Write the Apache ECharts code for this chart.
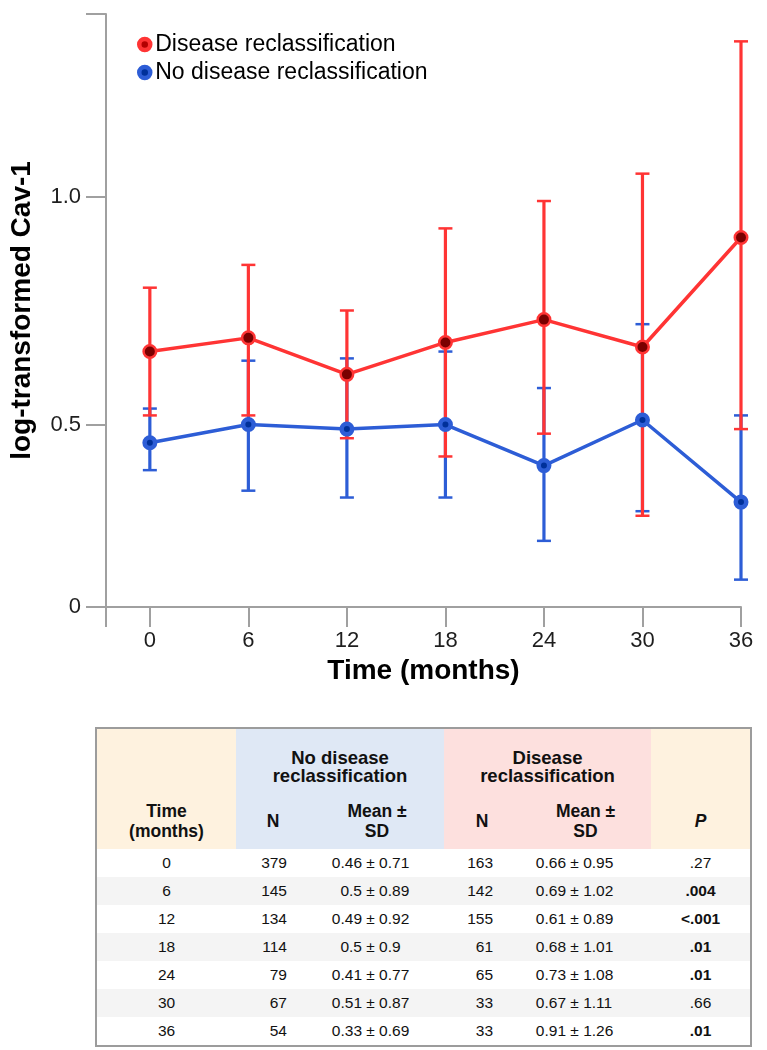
<!DOCTYPE html>
<html>
<head>
<meta charset="utf-8">
<script src="https://cdn.jsdelivr.net/npm/echarts@6/dist/echarts.min.js"></script>
<style>
  body { margin: 0; background: #fff; font-family: 'Liberation Sans', Arial, sans-serif; }
  #chart { position: absolute; left: 0; top: 0; width: 767px; height: 700px; }
  #box { position: absolute; left: 95px; top: 727px; width: 653px; border: 2px solid #9c9c9c; }
  #tbl { border-collapse: collapse; table-layout: fixed; width: 653px; color: #111; }
  #tbl td { padding: 0; white-space: nowrap; }
  .hd { font-weight: bold; font-size: 17.5px; text-align: center; }
  .r1 td { height: 56px; vertical-align: bottom; line-height: 18px; padding-bottom: 3px !important; font-size: 18.5px; }
  .r2 td { height: 57px; vertical-align: middle; line-height: 20px; padding-top: 4px !important; }
  .cream { background: #fef2df; }
  .blue { background: #dfe8f5; }
  .pink { background: #fde0de; }
  .row td { height: 28px; font-size: 15.5px; vertical-align: middle; }
  .row.alt td { background: #f4f4f4; }
  .c { text-align: center; }
  .nR1 { text-align: right; padding-right: 23px !important; }
  .nR2 { text-align: right; padding-right: 27px !important; }
  .m1 { padding-left: 12px !important; }
  .m2 { padding-left: 6px !important; }
  .mv { display: inline-block; width: 40px; text-align: right; }
  .b { font-weight: bold; }
</style>
</head>
<body>
<div id="chart"></div>
<div id="box"><table id="tbl"></table></div>
<script>
  // chart values
  const months = [0, 6, 12, 18, 24, 30, 36];
  const redMean = [0.66, 0.69, 0.61, 0.68, 0.73, 0.67, 0.91];
  const redLow = [0.52, 0.52, 0.47, 0.43, 0.48, 0.30, 0.49];
  const redHigh = [0.80, 0.85, 0.75, 0.93, 0.99, 1.05, 1.34];
  const blueMean = [0.46, 0.50, 0.49, 0.50, 0.41, 0.51, 0.33];
  const blueLow = [0.40, 0.355, 0.34, 0.34, 0.245, 0.31, 0.16];
  const blueHigh = [0.535, 0.64, 0.645, 0.66, 0.58, 0.72, 0.52];
  const yTicks = [0.1, 0.5, 1.0, 1.4];
  const yLabels = [0.1, 0.5, 1.0];

  // table values
  const nNo = [379, 145, 134, 114, 79, 67, 54];
  const meanNo = ['0.46', '0.5', '0.49', '0.5', '0.41', '0.51', '0.33'];
  const sdNo = ['0.71', '0.89', '0.92', '0.9', '0.77', '0.87', '0.69'];
  const nDis = [163, 142, 155, 61, 65, 33, 33];
  const meanDis = ['0.66', '0.69', '0.61', '0.68', '0.73', '0.67', '0.91'];
  const sdDis = ['0.95', '1.02', '0.89', '1.01', '1.08', '1.11', '1.26'];
  const pVals = ['.27', '.004', '<.001', '.01', '.01', '.66', '.01'];
  const pBold = [false, true, true, true, true, false, true];

  const RED = '#ff3434', RED_DARK = '#7a0000';
  const BLUE = '#2d5dd6', BLUE_DARK = '#00309a';
  const AXIS = '#a0a0a0';
  const xMin = -2.67;
  const font = "'Liberation Sans', Arial, sans-serif";

  function errSeries(low, high, color) {
    return {
      type: 'custom',
      name: 'err',
      silent: true,
      data: months.map((m, i) => [m, low[i], high[i]]),
      encode: { x: 0, y: [1, 2] },
      renderItem: function (params, api) {
        const lo = api.coord([api.value(0), api.value(1)]);
        const hi = api.coord([api.value(0), api.value(2)]);
        const cx = lo[0], w = 7;
        return {
          type: 'group',
          children: [
            { type: 'line', shape: { x1: cx, y1: lo[1], x2: cx, y2: hi[1] }, style: { stroke: color, lineWidth: 3.2 } },
            { type: 'line', shape: { x1: cx - w, y1: hi[1], x2: cx + w, y2: hi[1] }, style: { stroke: color, lineWidth: 2.5 } },
            { type: 'line', shape: { x1: cx - w, y1: lo[1], x2: cx + w, y2: lo[1] }, style: { stroke: color, lineWidth: 2.5 } }
          ]
        };
      }
    };
  }

  function lineSeries(name, vals, color, dark, size, bw) {
    return {
      type: 'line',
      name: name,
      data: months.map((m, i) => [m, vals[i]]),
      symbol: 'circle',
      symbolSize: size,
      itemStyle: { color: dark, borderColor: color, borderWidth: bw },
      lineStyle: { color: color, width: 3.5 },
      emphasis: { disabled: true }
    };
  }

  const chart = echarts.init(document.getElementById('chart'));
  chart.setOption({
    animation: false,
    grid: { left: 103, top: 14, width: 638, height: 593 },
    legend: {
      orient: 'vertical', left: 132, top: 28, itemGap: 5,
      itemWidth: 11, itemHeight: 11, icon: 'circle', selectedMode: false,
      textStyle: { fontSize: 23, color: '#000', fontFamily: font },
      data: [
        { name: 'Disease reclassification', itemStyle: { color: '#b30000', borderColor: RED, borderWidth: 4.5 } },
        { name: 'No disease reclassification', itemStyle: { color: BLUE_DARK, borderColor: BLUE, borderWidth: 4.5 } }
      ]
    },
    xAxis: {
      type: 'value', min: xMin, max: 36,
      splitLine: { show: false },
      axisLine: { show: true, onZero: false, lineStyle: { color: AXIS, width: 2 } },
      axisTick: { show: true, length: 20, customValues: [xMin].concat(months), lineStyle: { color: AXIS, width: 2 } },
      axisLabel: { customValues: months, margin: 23, fontSize: 22, color: '#1e1e1e', fontFamily: font },
      name: 'Time (months)', nameLocation: 'middle', nameGap: 49,
      nameTextStyle: { fontSize: 28, fontWeight: 'bold', color: '#000', fontFamily: font }
    },
    yAxis: {
      type: 'value', min: 0.1, max: 1.4,
      splitLine: { show: false },
      axisLine: { show: true, onZero: false, lineStyle: { color: AXIS, width: 2 } },
      axisTick: { show: true, length: 20, customValues: yTicks, lineStyle: { color: AXIS, width: 2 } },
      axisLabel: {
        customValues: yLabels, margin: 25, fontSize: 22, color: '#1e1e1e', fontFamily: font,
        formatter: v => (v < 0.2 ? '0' : v.toFixed(1))
      },
      name: 'log-transformed Cav-1', nameLocation: 'middle', nameGap: 70,
      nameTextStyle: { fontSize: 28, fontWeight: 'bold', color: '#000', fontFamily: font }
    },
    series: [
      errSeries(blueLow, blueHigh, BLUE),
      lineSeries('No disease reclassification', blueMean, BLUE, BLUE_DARK, 10.5, 4.5),
      errSeries(redLow, redHigh, RED),
      lineSeries('Disease reclassification', redMean, RED, RED_DARK, 12.5, 2.5)
    ]
  });

  // table
  let html = '<colgroup><col style="width:139px"><col style="width:74px"><col style="width:134px">' +
    '<col style="width:76px"><col style="width:131px"><col style="width:99px"></colgroup>';
  html += '<tr class="r1 hd"><td class="cream"></td><td class="blue" colspan="2">No disease<br>reclassification</td>' +
    '<td class="pink" colspan="2">Disease<br>reclassification</td><td class="cream"></td></tr>';
  html += '<tr class="r2 hd"><td class="cream">Time<br>(months)</td><td class="blue">N</td><td class="blue">Mean ±<br>SD</td>' +
    '<td class="pink">N</td><td class="pink">Mean ±<br>SD</td><td class="cream"><i>P</i></td></tr>';
  months.forEach((m, i) => {
    html += '<tr class="row' + (i % 2 ? ' alt' : '') + '">' +
      '<td class="c">' + m + '</td>' +
      '<td class="nR1">' + nNo[i] + '</td>' +
      '<td class="m1"><span class="mv">' + meanNo[i] + '</span>&nbsp;±&nbsp;' + sdNo[i] + '</td>' +
      '<td class="nR2">' + nDis[i] + '</td>' +
      '<td class="m2"><span class="mv">' + meanDis[i] + '</span>&nbsp;±&nbsp;' + sdDis[i] + '</td>' +
      '<td class="c' + (pBold[i] ? ' b' : '') + '">' + pVals[i].replace('<', '&lt;') + '</td></tr>';
  });
  document.getElementById('tbl').innerHTML = html;
</script>
</body>
</html>
